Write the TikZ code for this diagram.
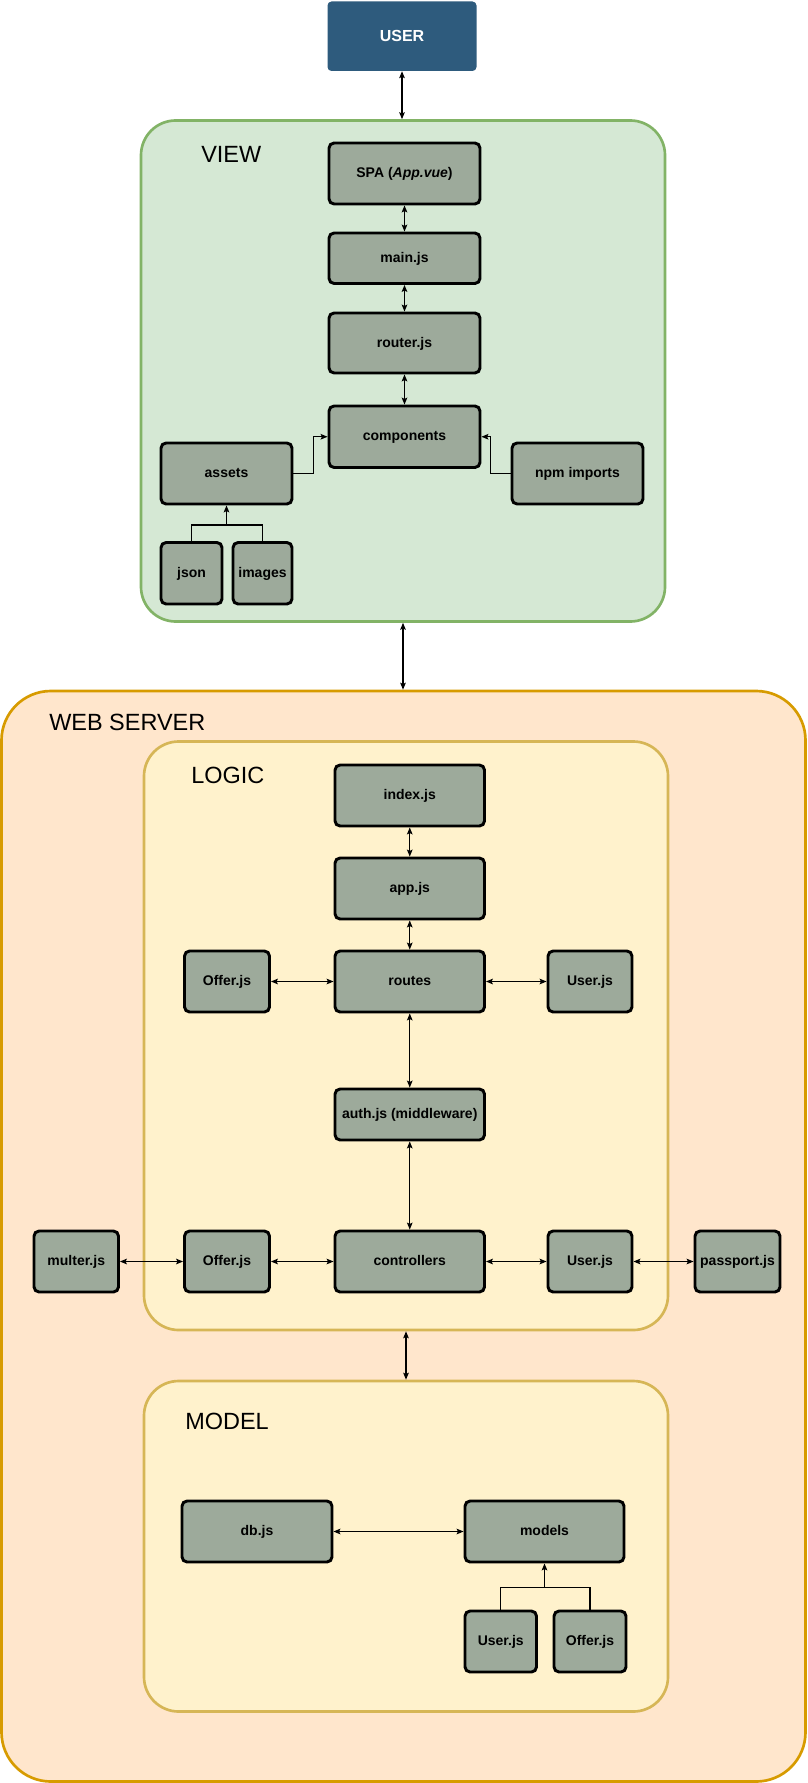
\documentclass[tikz,border=0pt]{standalone}
\usepackage{fontspec}
\setmainfont{Liberation Sans}
\usetikzlibrary{arrows.meta,calc}
\definecolor{userblue}{HTML}{2E5B7D}
\definecolor{viewfill}{HTML}{D5E8D4}
\definecolor{viewdraw}{HTML}{82B366}
\definecolor{srvfill}{HTML}{FFE6CC}
\definecolor{srvdraw}{HTML}{D79B00}
\definecolor{lgfill}{HTML}{FFF2CC}
\definecolor{lgdraw}{HTML}{D6B656}
\definecolor{boxgray}{HTML}{9DAA9B}
\newcommand\bx[7][gbox]{\node[#1,minimum width={(#5-#3)*0.75pt},minimum height={(#6-#4)*0.75pt}] (#2) at ({(#3+#5)/2},{(#4+#6)/2}) {#7};}
\tikzset{
  gbox/.style={draw=black, fill=boxgray, line width=2.2pt, rounded corners=3.8pt, inner sep=1pt,
    font=\bfseries\fontsize{10.5}{12}\selectfont, text height=1.5ex, text depth=.3ex},
  userbox/.style={fill=userblue, rounded corners=3pt, text=white, inner sep=1pt,
    font=\bfseries\fontsize{12}{14}\selectfont},
  viewbox/.style={draw=viewdraw, fill=viewfill, line width=2pt, rounded corners=26pt},
  srvbox/.style={draw=srvdraw, fill=srvfill, line width=2pt, rounded corners=37pt},
  lgbox/.style={draw=lgdraw, fill=lgfill, line width=2pt, rounded corners=26pt},
  title/.style={anchor=west, inner sep=0pt, font=\fontsize{17.6}{20}\selectfont},
  tip/.tip={Stealth[length=5.2pt,width=4.2pt,inset=1pt]},
  uni/.style={draw, line width=0.8pt, -tip},
  bi/.style={draw, line width=0.8pt, tip-tip},
  plain/.style={draw, line width=0.8pt},
}
\begin{document}
\begin{tikzpicture}[x=0.75pt,y=-0.75pt]
\useasboundingbox (0,0) rectangle (807,1783);
% USER and VIEW
\bx[userbox]{user}{327.5}{1.5}{476.5}{71}{USER}
\bx[viewbox]{view}{141}{120.5}{665}{621.5}{}
\node[title] (viewlbl) at (201,154) {VIEW};
\bx{spa}{329}{143}{480}{204}{SPA (\textit{App.vue})}
\bx{main}{329}{233}{480}{283.5}{main.js}
\bx{router}{329}{313}{480}{373}{router.js}
\bx{comp}{329}{406}{480}{467.5}{components}
\bx{assets}{161}{443}{292}{504}{assets}
\bx{npm}{512}{443}{643}{504}{npm imports}
\bx{json}{161}{542.5}{222}{604}{json}
\bx{images}{233}{542.5}{292}{604}{images}
% WEB SERVER
\bx[srvbox]{server}{1.5}{691}{805.5}{1781.5}{}
\node[title] (srvlbl) at (49,722) {WEB SERVER};
\bx[lgbox]{logic}{144}{741.5}{668}{1330}{}
\node[title] (logiclbl) at (191,775.5) {LOGIC};
\bx[lgbox]{model}{144}{1381}{668}{1711.5}{}
\node[title] (modellbl) at (185,1421.7) {MODEL};
\bx{index}{335}{765}{484.5}{826}{index.js}
\bx{app}{335}{858}{484.5}{919}{app.js}
\bx{routes}{335}{951}{484.5}{1012}{routes}
\bx{offerA}{184.5}{951}{269.5}{1012}{Offer.js}
\bx{userA}{548}{951}{632}{1012}{User.js}
\bx{auth}{335}{1089}{484.5}{1140}{auth.js (middleware)}
\bx{ctrl}{335}{1231}{484.5}{1292}{controllers}
\bx{multer}{34}{1231}{118.5}{1292}{multer.js}
\bx{offerB}{184.5}{1231}{269.5}{1292}{Offer.js}
\bx{userB}{548}{1231}{632}{1292}{User.js}
\bx{passport}{695}{1231}{780}{1292}{passport.js}
\bx{db}{182}{1501}{332}{1562}{db.js}
\bx{models}{465}{1501}{624}{1562}{models}
\bx{userC}{465}{1611}{536.5}{1672}{User.js}
\bx{offerC}{554}{1611}{626}{1672}{Offer.js}
% connectors VIEW
\draw[bi] (user.south) -- (user.south |- view.north);
\draw[bi] (spa) -- (main);
\draw[bi] (main) -- (router);
\draw[bi] (router) -- (comp);
\draw[uni] (assets.east) -- ++(20,0) |- (comp.west);
\draw[uni] (npm.west) -- ++(-20,0) |- (comp.east);
\coordinate (jA) at ($(assets.south)+(0,19.5)$);
\draw[plain] (json.north) |- (jA) -| (images.north);
\draw[uni] (jA) -- (assets.south);
\draw[bi] (view.south) -- (view.south |- server.north);
% connectors LOGIC
\draw[bi] (index) -- (app);
\draw[bi] (app) -- (routes);
\draw[bi] (routes) -- (auth);
\draw[bi] (auth) -- (ctrl);
\draw[bi] (offerA) -- (routes);
\draw[bi] (routes) -- (userA);
\draw[bi] (multer) -- (offerB);
\draw[bi] (offerB) -- (ctrl);
\draw[bi] (ctrl) -- (userB);
\draw[bi] (userB) -- (passport);
\draw[bi] (logic.south) -- (logic.south |- model.north);
% connectors MODEL
\draw[bi] (db) -- (models);
\coordinate (jM) at ($(models.south)+(0,24)$);
\draw[plain] (userC.north) |- (jM) -| (offerC.north);
\draw[uni] (jM) -- (models.south);
\end{tikzpicture}
\end{document}
